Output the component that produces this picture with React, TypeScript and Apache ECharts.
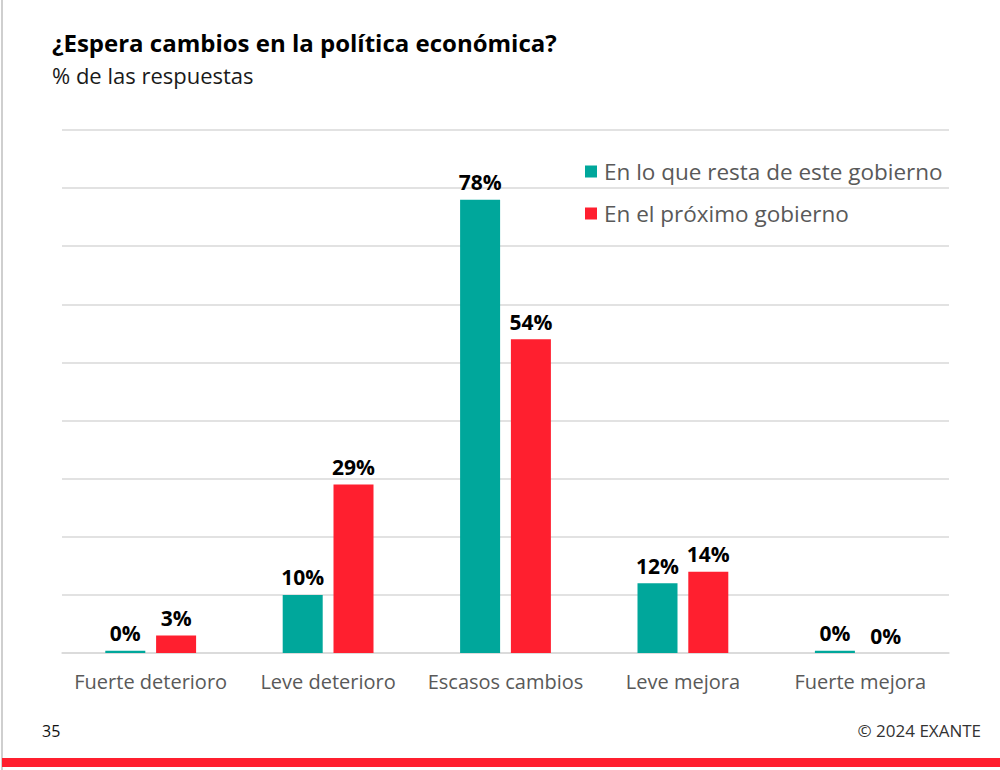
import React, { useEffect, useRef } from "react";
import * as echarts from "echarts";

const categories = ["Fuerte deterioro", "Leve deterioro", "Escasos cambios", "Leve mejora", "Fuerte mejora"];
const seriesNames = ["En lo que resta de este gobierno", "En el próximo gobierno"];
const restaGobierno = [0.4, 10, 78, 12, 0.4];
const proximoGobierno = [3, 29, 54, 14, 0];
const titleText = "¿Espera cambios en la política económica?";
const subtitleText = "% de las respuestas";
const pageNumber = "35";
const copyright = "© 2024 EXANTE";

const TEAL = "#00A79B";
const RED = "#FF1F2F";
const FONT = "Open Sans";

export default function App() {
  const ref = useRef<HTMLDivElement>(null);
  useEffect(() => {
    document.body.style.margin = "0";
    const chart = echarts.init(ref.current!, null, { renderer: "svg" });
    const label = {
      show: true,
      position: "top" as const,
      distance: 7,
      fontFamily: FONT,
      fontWeight: "bold" as const,
      fontSize: 21,
      color: "#000",
      formatter: (p: any) => Math.round(p.value) + "%",
    };
    chart.setOption({
      animation: false,
      backgroundColor: "#fff",
      textStyle: { fontFamily: FONT },
      grid: { left: 62, right: 51, top: 130, bottom: 117 },
      legend: {
        orient: "vertical",
        left: 580,
        top: 155,
        icon: "rect",
        itemWidth: 12,
        itemHeight: 12,
        itemGap: 19,
        textStyle: { fontFamily: FONT, fontSize: 22.5, color: "#595959", padding: [0, 0, 0, 2] },
        data: seriesNames,
      },
      xAxis: {
        type: "category",
        data: categories,
        axisLine: { lineStyle: { color: "#d9d9d9", width: 1.5 } },
        axisTick: { show: false },
        axisLabel: { color: "#595959", fontSize: 20, fontFamily: FONT, margin: 18, interval: 0 },
      },
      yAxis: {
        type: "value",
        min: 0,
        max: 90,
        interval: 10,
        axisLabel: { show: false },
        axisLine: { show: false },
        axisTick: { show: false },
        splitLine: { lineStyle: { color: "#d9d9d9", width: 1.5 } },
      },
      series: [
        {
          name: seriesNames[0],
          type: "bar",
          data: restaGobierno,
          barWidth: 40,
          barGap: "27%",
          itemStyle: { color: TEAL },
          label,
        },
        {
          name: seriesNames[1],
          type: "bar",
          data: proximoGobierno,
          barWidth: 40,
          barGap: "27%",
          itemStyle: { color: RED },
          label,
        },
      ],
      graphic: [
        { type: "rect", shape: { x: 1, y: 0, width: 2, height: 770 }, style: { fill: "#cfcfcf" } },
        { type: "rect", shape: { x: 2, y: 758, width: 998, height: 9 }, style: { fill: RED } },
        {
          type: "text",
          left: 52,
          top: 30,
          style: { text: titleText, fontFamily: FONT, fontWeight: "bold", fontSize: 24, fill: "#000" },
        },
        {
          type: "text",
          left: 52,
          top: 64,
          style: { text: subtitleText, fontFamily: FONT, fontSize: 22, fill: "#1a1a1a" },
        },
        {
          type: "text",
          left: 42,
          top: 723,
          style: { text: pageNumber, fontFamily: FONT, fontSize: 16, fill: "#111" },
        },
        {
          type: "text",
          right: 19,
          top: 722,
          style: { text: copyright, fontFamily: FONT, fontSize: 17, fill: "#333" },
        },
      ],
    });
    return () => chart.dispose();
  }, []);
  return <div ref={ref} style={{ position: "absolute", left: 0, top: 0, width: 1000, height: 770 }} />;
}
